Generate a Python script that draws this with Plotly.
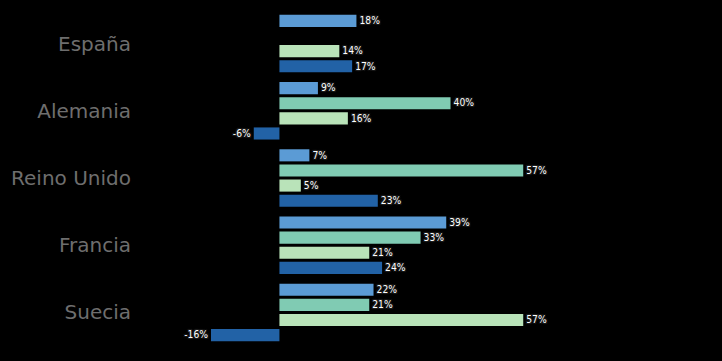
import plotly.graph_objects as go

countries = ["España", "Alemania", "Reino Unido", "Francia", "Suecia"]
serie_1 = [18, 9, 7, 39, 22]
serie_2 = [None, 40, 57, 33, 21]
serie_3 = [14, 16, 5, 21, 57]
serie_4 = [17, -6, 23, 24, -16]
series = [serie_1, serie_2, serie_3, serie_4]
colors = ["#5b9bd5", "#80cbb3", "#b9e3b9", "#2262a6"]

fig = go.Figure()
for vals, col in zip(series, colors):
    fig.add_trace(go.Bar(
        y=countries, x=vals, orientation="h",
        marker=dict(color=col, line=dict(width=0)),
        text=[None if v is None else f"{v}%" for v in vals],
        textposition="outside", cliponaxis=False,
        textfont=dict(family="DejaVu Sans Condensed, DejaVu Sans", size=11, color="white",
                      shadow="1px 1px 1px #222, -1px -1px 1px #222, 1px -1px 1px #222, -1px 1px 1px #222"),
        showlegend=False,
    ))

fig.update_layout(
    width=722, height=361,
    paper_bgcolor="black", plot_bgcolor="black",
    margin=dict(l=140, r=20, t=10, b=15),
    barmode="group", bargap=0.1, bargroupgap=0.2,
    xaxis=dict(range=[-32.6, 98.8], showgrid=False, zeroline=False, showticklabels=False, visible=False),
    yaxis=dict(autorange="reversed", showgrid=False, zeroline=False,
               tickfont=dict(family="DejaVu Sans", size=20, color="#6e6e6e"), ticklabelstandoff=8),
)
fig.write_html("out.html", config={"displayModeBar": False},
               post_script="document.body.style.margin='0';document.body.style.background='black';document.documentElement.style.background='black';")
